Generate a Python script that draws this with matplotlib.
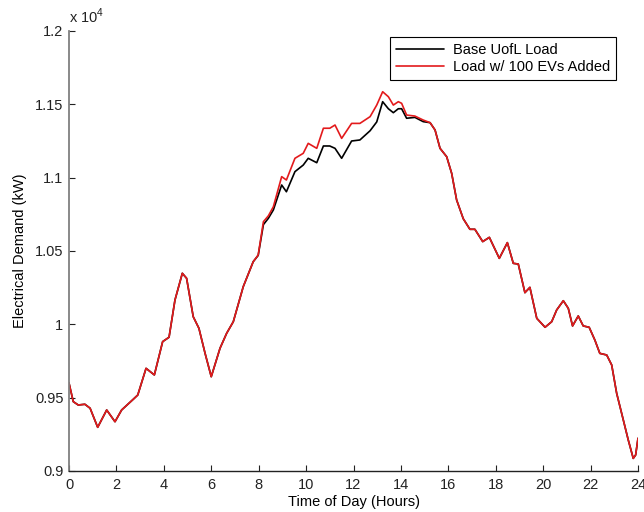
import matplotlib
matplotlib.use("Agg")
import matplotlib.pyplot as plt
from matplotlib.ticker import FuncFormatter

plt.rcParams['font.family'] = ['Liberation Sans', 'DejaVu Sans']
plt.rcParams['mathtext.fontset'] = 'custom'
plt.rcParams['mathtext.rm'] = 'Liberation Sans'

# Time of day (hours) for each sample
hours = [0.00, 0.18, 0.39, 0.67, 0.89, 1.21, 1.59, 1.94, 2.22, 2.71,
         2.90, 3.25, 3.60, 3.95, 4.22, 4.47, 4.78, 4.96, 5.24, 5.48,
         5.74, 6.00, 6.37, 6.65, 6.93, 7.35, 7.77, 7.98, 8.20, 8.41,
         8.62, 8.97, 9.17, 9.53, 9.88, 10.09, 10.45, 10.73, 11.00, 11.22,
         11.50, 11.92, 12.27, 12.70, 12.98, 13.23, 13.47, 13.68, 13.89, 14.03,
         14.24, 14.59, 14.94, 15.23, 15.44, 15.65, 15.93, 16.14, 16.35, 16.63,
         16.91, 17.12, 17.45, 17.73, 18.15, 18.49, 18.74, 18.95, 19.23, 19.44,
         19.73, 20.08, 20.36, 20.57, 20.85, 21.06, 21.24, 21.48, 21.69, 21.94,
         22.18, 22.39, 22.68, 22.89, 23.10, 23.38, 23.59, 23.80, 23.90, 24.00]

# Campus load with 100 EVs charging (kW)
ev_load = [9600, 9473, 9450, 9455, 9428, 9298, 9416, 9336, 9416, 9489,
           9518, 9700, 9655, 9882, 9912, 10166, 10348, 10314, 10052, 9973,
           9802, 9643, 9837, 9939, 10018, 10257, 10427, 10473, 10700, 10740,
           10802, 11007, 10984, 11132, 11166, 11234, 11200, 11337, 11337, 11359,
           11268, 11370, 11370, 11416, 11495, 11586, 11552, 11495, 11518, 11507,
           11427, 11420, 11393, 11375, 11325, 11200, 11143, 11030, 10848, 10720,
           10648, 10648, 10564, 10593, 10450, 10557, 10416, 10411, 10216, 10252,
           10041, 9980, 10018, 10098, 10161, 10109, 9989, 10057, 9989, 9980,
           9893, 9802, 9791, 9723, 9530, 9348, 9211, 9086, 9109, 9223]

# Base UofL campus load (kW)
base_load = [9600, 9473, 9450, 9455, 9428, 9298, 9416, 9336, 9416, 9489,
             9518, 9700, 9655, 9882, 9912, 10166, 10348, 10314, 10052, 9973,
             9802, 9643, 9837, 9939, 10018, 10257, 10427, 10470, 10680, 10723,
             10780, 10950, 10904, 11041, 11086, 11132, 11102, 11216, 11216, 11200,
             11132, 11250, 11257, 11320, 11380, 11518, 11470, 11443, 11470, 11470,
             11405, 11411, 11382, 11375, 11325, 11200, 11143, 11030, 10848, 10720,
             10648, 10648, 10564, 10593, 10450, 10557, 10416, 10411, 10216, 10252,
             10041, 9980, 10018, 10098, 10161, 10109, 9989, 10057, 9989, 9980,
             9893, 9802, 9791, 9723, 9530, 9348, 9211, 9086, 9109, 9223]

series_labels = ['Base UofL Load', 'Load w/ 100 EVs Added']
x_ticks = list(range(0, 25, 2))
y_ticks = [9000, 9500, 10000, 10500, 11000, 11500, 12000]

W, H = 644, 512
fig = plt.figure(figsize=(W / 100, H / 100), dpi=100)
ax = fig.add_axes([69 / W, 1 - 471 / H, (638 - 69) / W, (471 - 31) / H])

line_kw = dict(lw=1.2, solid_joinstyle='round', solid_capstyle='round')
ax.plot(hours, base_load, color='black', label=series_labels[0], **line_kw)
ax.plot(hours, ev_load, color='#e31a1c', label=series_labels[1], **line_kw)

ax.set_xlim(0, 24)
ax.set_ylim(9000, 12000)
ax.set_xticks(x_ticks)
ax.set_yticks(y_ticks)
ax.yaxis.set_major_formatter(FuncFormatter(lambda v, p: f'{v / 1e4:g}'))

for side in ('top', 'right'):
    ax.spines[side].set_visible(False)
ax.spines['left'].set_color('#808080')
ax.spines['left'].set_linewidth(1.3)
ax.spines['bottom'].set_color('#222222')
ax.spines['bottom'].set_linewidth(1.0)

ax.tick_params(direction='in', length=4, width=0.8, labelsize=10.5,
               colors='#222222', pad=4)
ax.tick_params(axis='x', pad=5)

ax.set_xlabel('Time of Day (Hours)', fontsize=10.5, labelpad=2)
ax.set_ylabel('Electrical Demand (kW)', fontsize=10.5, labelpad=6)

ax.text(0.0, 1.012, r'x 10$^{4}$', transform=ax.transAxes,
        fontsize=10.5, ha='left', va='bottom', color='#222222')

leg = ax.legend(loc='upper right', bbox_to_anchor=(616 / W, 1 - 37 / H),
                bbox_transform=fig.transFigure, fontsize=10.5,
                handlelength=3.3, fancybox=False, framealpha=1,
                edgecolor='black', borderpad=0.4, labelspacing=0.25,
                handletextpad=0.6, borderaxespad=0)
leg.get_frame().set_linewidth(0.8)

fig.savefig('out.png', dpi=100)
